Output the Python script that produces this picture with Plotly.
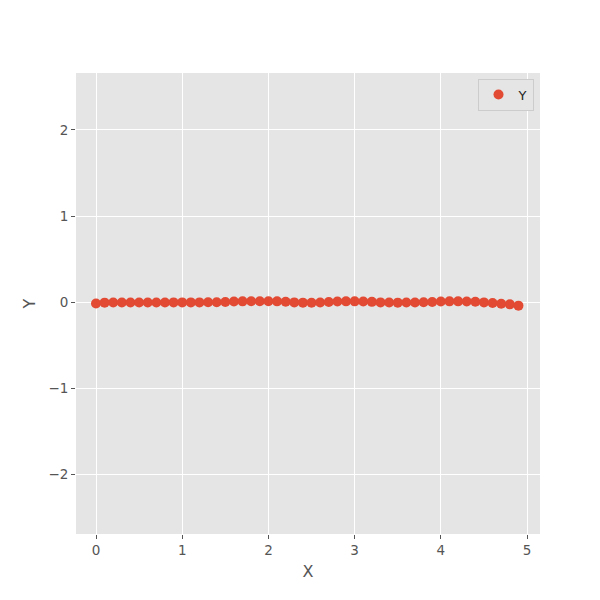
import plotly.graph_objects as go

x_vals = [round(i * 0.1, 1) for i in range(50)]
y_vals = [-0.015, -0.005, -0.003, -0.003, -0.003, -0.003, -0.003, -0.003, -0.003, -0.002,
          -0.002, -0.002, -0.002, -0.001, 0.0, 0.003, 0.008, 0.010, 0.012, 0.012,
          0.012, 0.010, 0.005, -0.002, -0.005, -0.006, -0.003, 0.003, 0.008, 0.010,
          0.010, 0.008, 0.004, -0.002, -0.004, -0.005, -0.004, -0.003, -0.001, 0.003,
          0.008, 0.010, 0.010, 0.009, 0.006, -0.002, -0.010, -0.018, -0.025, -0.040]

fig = go.Figure()
fig.add_trace(go.Scatter(x=x_vals, y=y_vals, mode="markers", name="Y",
                         marker=dict(color="#E24A33", size=10)))

axis_common = dict(
    showgrid=True, gridcolor="white", gridwidth=1, zeroline=False,
    ticks="outside", ticklen=4, tickcolor="#555555", tickwidth=1,
    tickfont=dict(family="DejaVu Sans", size=13.5, color="#555555"),
    showline=False, dtick=1, automargin=False,
)

fig.update_layout(
    width=600, height=600,
    paper_bgcolor="white", plot_bgcolor="#E5E5E5",
    margin=dict(l=68, r=68, t=65, b=74),
    font=dict(family="DejaVu Sans"),
    xaxis=dict(range=[-0.232, 5.15], title=dict(text="X", font=dict(size=16, color="#555555"), standoff=8), **axis_common),
    yaxis=dict(range=[-2.69, 2.66], title=dict(text="Y", font=dict(size=16, color="#555555"), standoff=8), **axis_common),
    showlegend=True,
    legend=dict(x=0.986, y=0.988, xanchor="right", yanchor="top",
                bgcolor="#E5E5E5", bordercolor="#CCCCCC", borderwidth=1,
                font=dict(size=13, color="#222222"), itemwidth=30),
)

fig.write_html("out.html")
